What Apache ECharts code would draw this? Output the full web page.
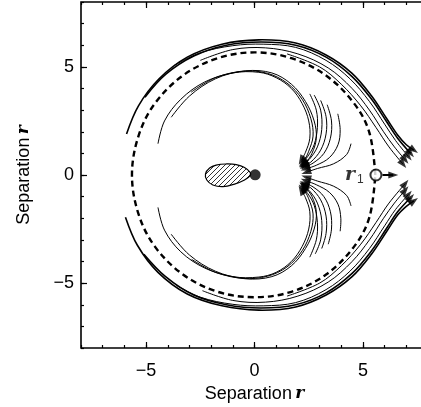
<!DOCTYPE html>
<html>
<head>
<meta charset="utf-8">
<script src="https://cdn.jsdelivr.net/npm/echarts@6/dist/echarts.min.js"></script>
<style>
  html, body { margin: 0; padding: 0; background: #fff; }
  #main { width: 421px; height: 407px; }
</style>
</head>
<body>
<div id="main"></div>
<script>
// axis range and labelled ticks
const axisMin = -8;
const axisMax = 8;
const tickLabels = [-5, 0, 5];

// hatched lobe and the black dot at the origin
const lobe = [[-0.2, 0.12], [-0.46, 0.35], [-0.84, 0.48], [-1.3, 0.51], [-1.77, 0.46], [-2.07, 0.32],
  [-2.26, 0.05], [-2.2, -0.23], [-1.92, -0.46], [-1.46, -0.54], [-0.92, -0.42], [-0.46, -0.23], [-0.2, -0.03]];
const nucleus = [[0.03, 0.01]];

// dashed circle
const dashedOrbit = [[5.57, 0], [5.3, 1.95], [4.6, 3.3], [3.3, 4.6], [1.7, 5.4], [0, 5.67], [-1.7, 5.4],
  [-3.3, 4.6], [-4.6, 3.3], [-5.35, 1.8], [-5.65, 0], [-5.35, -1.8], [-4.6, -3.3], [-3.3, -4.6],
  [-1.7, -5.4], [0, -5.65], [1.7, -5.4], [3.3, -4.6], [4.6, -3.3], [5.3, -1.95], [5.57, 0]];

// trajectories around the inner (heart shaped) region, ending at the cusp
const innerTop = [
  [[-4.45, 1.45], [-4.15, 2.5], [-3.4, 3.5], [-2.3, 4.3], [-1, 4.72], [0.2, 4.75], [1.0, 4.5], [1.7, 4.0], [2.2, 3.3], [2.5, 2.5], [2.55, 1.7], [2.35, 1.05], [2.15, 0.68]],
  [[-3.84, 2.67], [-3.0, 3.65], [-1.8, 4.45], [-0.5, 4.8], [0.6, 4.7], [1.5, 4.25], [2.2, 3.5], [2.6, 2.6], [2.7, 1.8], [2.5, 1.1], [2.25, 0.55]],
  [[-2.92, 3.83], [-1.8, 4.5], [-0.4, 4.82], [0.8, 4.72], [1.7, 4.2], [2.35, 3.4], [2.75, 2.5], [2.85, 1.7], [2.65, 1.0], [2.3, 0.45]]
];
const innerBottom = [
  [[-4.45, -1.5], [-4.15, -2.55], [-3.4, -3.55], [-2.3, -4.3], [-1, -4.7], [0.2, -4.72], [1.0, -4.5], [1.7, -4.0], [2.2, -3.3], [2.5, -2.5], [2.55, -1.7], [2.35, -1.05], [2.15, -0.7]],
  [[-3.84, -2.74], [-3.0, -3.7], [-1.8, -4.45], [-0.5, -4.78], [0.6, -4.68], [1.5, -4.25], [2.2, -3.5], [2.6, -2.6], [2.7, -1.8], [2.5, -1.1], [2.25, -0.6]],
  [[-2.9, -3.9], [-1.8, -4.5], [-0.4, -4.8], [0.8, -4.7], [1.7, -4.2], [2.35, -3.4], [2.75, -2.5], [2.85, -1.7], [2.65, -1.0], [2.3, -0.5]]
];

// fan of short trajectories running into the cusp
const fanTop = [
  [[2.55, 3.75], [2.85, 3.0], [2.9, 2.2], [2.75, 1.4], [2.45, 0.85], [2.2, 0.55]],
  [[2.75, 3.7], [3.05, 3.0], [3.1, 2.1], [2.9, 1.3], [2.55, 0.75], [2.25, 0.5]],
  [[3.05, 3.45], [3.3, 2.7], [3.3, 1.9], [3.05, 1.15], [2.6, 0.6], [2.3, 0.45]],
  [[3.35, 3.25], [3.55, 2.5], [3.5, 1.7], [3.2, 1.0], [2.7, 0.55], [2.3, 0.38]],
  [[3.84, 2.83], [3.95, 2.1], [3.85, 1.4], [3.45, 0.8], [2.85, 0.45], [2.35, 0.28]],
  [[4.45, 1.45], [4.25, 0.95], [3.65, 0.52], [2.9, 0.3], [2.38, 0.12]]
];
const fanBottom = [
  [[2.55, -3.8], [2.85, -3.0], [2.9, -2.2], [2.75, -1.4], [2.45, -0.85], [2.2, -0.6]],
  [[2.8, -3.65], [3.05, -3.0], [3.1, -2.1], [2.9, -1.3], [2.55, -0.75], [2.25, -0.5]],
  [[3.1, -3.4], [3.3, -2.7], [3.3, -1.9], [3.05, -1.15], [2.6, -0.6], [2.3, -0.45]],
  [[3.4, -3.2], [3.55, -2.5], [3.5, -1.7], [3.2, -1.0], [2.7, -0.55], [2.3, -0.38]],
  [[3.95, -2.6], [3.98, -2.0], [3.85, -1.35], [3.45, -0.8], [2.85, -0.45], [2.35, -0.26]],
  [[4.45, -1.43], [4.25, -0.95], [3.65, -0.52], [2.9, -0.28], [2.38, -0.1]]
];

// trajectories outside the dashed circle, escaping to the right
const outerTop = [
  [[-5.9, 1.9], [-5.35, 3.2], [-4.4, 4.45], [-3.1, 5.45], [-1.5, 6.05], [0.2, 6.25], [1.9, 6.1], [3.3, 5.55], [4.5, 4.7], [5.4, 3.65], [6.1, 2.6], [6.6, 1.85], [7.0, 1.4], [7.35, 1.15]],
  [[-5.05, 3.6], [-4.1, 4.65], [-2.8, 5.5], [-1.3, 6.0], [0.3, 6.15], [1.9, 6.0], [3.3, 5.45], [4.5, 4.55], [5.4, 3.5], [6.1, 2.45], [6.6, 1.7], [7.2, 1.0]],
  [[-3.7, 5.07], [-2.5, 5.65], [-1.0, 5.98], [0.4, 6.05], [1.9, 5.9], [3.3, 5.3], [4.4, 4.45], [5.3, 3.4], [6.0, 2.35], [6.5, 1.6], [7.1, 0.85]],
  [[-2.5, 5.3], [-1.0, 5.8], [0.5, 5.88], [2.0, 5.6], [3.4, 4.95], [4.5, 4.0], [5.3, 3.0], [5.95, 2.0], [6.45, 1.3], [6.95, 0.7]],
  [[1.5, 5.6], [3.0, 5.0], [4.0, 4.2], [4.9, 3.2], [5.6, 2.2], [6.2, 1.3], [6.85, 0.5]]
];
const outerBottom = [
  [[-5.95, -1.95], [-5.4, -3.25], [-4.45, -4.5], [-3.1, -5.5], [-1.5, -6.05], [0.2, -6.25], [1.9, -6.1], [3.3, -5.55], [4.5, -4.7], [5.4, -3.65], [6.1, -2.6], [6.6, -1.85], [7.0, -1.45], [7.35, -1.2]],
  [[-5.1, -3.66], [-4.1, -4.7], [-2.8, -5.55], [-1.3, -6.0], [0.3, -6.15], [1.9, -6.0], [3.3, -5.45], [4.5, -4.55], [5.4, -3.5], [6.1, -2.45], [6.6, -1.7], [7.2, -1.05]],
  [[-3.6, -5.1], [-2.5, -5.65], [-1.0, -5.98], [0.4, -6.05], [1.9, -5.9], [3.3, -5.3], [4.4, -4.45], [5.3, -3.4], [6.0, -2.35], [6.5, -1.6], [7.1, -0.9]],
  [[-2.4, -5.35], [-1.0, -5.8], [0.5, -5.88], [2.0, -5.6], [3.4, -4.95], [4.5, -4.0], [5.3, -3.0], [5.95, -2.0], [6.45, -1.3], [6.95, -0.7]],
  [[1.5, -5.6], [3.0, -5.0], [4.0, -4.2], [4.9, -3.2], [5.6, -2.2], [6.2, -1.3], [6.95, -0.4]]
];

// r1 marker with its arrow
const r1Point = [[5.6, 0]];
const r1Arrow = [[5.9, 0], [6.4, 0]];
const r1Label = [[4.6, 0]];

const chart = echarts.init(document.getElementById('main'));

// diagonal hatch pattern for the lobe
const hatch = document.createElement('canvas');
hatch.width = 5;
hatch.height = 5;
const hc = hatch.getContext('2d');
hc.strokeStyle = '#000';
hc.lineWidth = 0.8;
hc.beginPath();
hc.moveTo(0, 5); hc.lineTo(5, 0);
hc.moveTo(-2.5, 2.5); hc.lineTo(2.5, -2.5);
hc.moveTo(2.5, 7.5); hc.lineTo(7.5, 2.5);
hc.stroke();

const minus = v => String(v).replace('-', '\u2212');
const labelFont = { fontFamily: 'Liberation Sans', fontSize: 18, color: '#000' };
const nameStyle = {
  rich: {
    a: { fontFamily: 'Liberation Sans', fontSize: 18, color: '#000' },
    b: { fontFamily: 'DejaVu Serif', fontStyle: 'italic', fontWeight: 'bold', fontSize: 17, color: '#000' }
  }
};

function makeAxis(dim, pos, major, main) {
  const ax = {
    type: 'value', position: pos, min: axisMin, max: axisMax, interval: 1,
    axisLine: { show: false, onZero: false },
    splitLine: { show: false },
    axisTick: { show: true, inside: true, length: major ? 6 : 3, lineStyle: { color: '#000', width: 1.2 } },
    axisLabel: { show: false }
  };
  if (major) ax.axisTick.customValues = tickLabels;
  if (main) {
    ax.axisLabel = Object.assign({ show: true, customValues: tickLabels, formatter: minus, margin: dim === 'x' ? 14 : 7 }, labelFont);
    ax.name = '{a|Separation} {b|r}';
    ax.nameLocation = 'middle';
    ax.nameGap = dim === 'x' ? 34 : 48;
    ax.nameTextStyle = nameStyle;
  }
  return ax;
}

// one custom series per group of trajectories, drawn as smooth polylines
function tracks(group, width, dash) {
  return {
    type: 'custom', silent: true, z: 3,
    data: group.map(t => t[0]),
    renderItem: (params, api) => ({
      type: 'polyline',
      shape: { points: group[params.dataIndex].map(p => api.coord(p)), smooth: 0.35 },
      style: { stroke: '#000', lineWidth: typeof width === 'function' ? width(params.dataIndex) : width, fill: 'none', lineDash: dash || null }
    })
  };
}

// arrowheads at the end of every trajectory, pointing along its last segment
function heads(list) {
  return list.map(t => {
    const a = t[t.length - 2], b = t[t.length - 1];
    const ang = Math.atan2(b[1] - a[1], b[0] - a[0]) * 180 / Math.PI;
    return { value: b, symbolRotate: ang - 90 };
  });
}

const allTracks = [].concat(innerTop, innerBottom, fanTop, fanBottom, outerTop, outerBottom);
const series = [
  tracks(innerTop.concat(innerBottom, fanTop, fanBottom), 1),
  tracks(outerTop.concat(outerBottom), i => (i % 5 < 2 ? 1.6 : 1)),
  tracks([dashedOrbit], 2.4, [6, 4]),
  tracks([r1Arrow], 2),
  {
    type: 'scatter', data: heads(allTracks.concat([r1Arrow])), symbol: 'triangle',
    symbolSize: [7, 10], itemStyle: { color: '#000' }, silent: true, z: 5
  },
  {
    type: 'custom', data: [lobe[0]], z: 4, silent: true,
    renderItem: (params, api) => ({
      type: 'polygon',
      shape: { points: lobe.map(p => api.coord(p)), smooth: 0.4 },
      style: { fill: { image: hatch, repeat: 'repeat' }, stroke: '#000', lineWidth: 1.2 }
    })
  },
  {
    type: 'scatter', data: nucleus, symbol: 'circle', symbolSize: 11, silent: true, z: 6,
    itemStyle: { color: '#000' }
  },
  {
    type: 'scatter', data: r1Point, symbol: 'circle', symbolSize: 11, silent: true, z: 6,
    itemStyle: { color: '#fff', borderColor: '#000', borderWidth: 2 }
  },
  {
    type: 'scatter', data: r1Label, symbolSize: 0, silent: true, z: 6,
    label: {
      show: true, position: 'inside', formatter: '{b|r}{s|1}',
      rich: {
        b: { fontFamily: 'DejaVu Serif', fontStyle: 'italic', fontWeight: 'bold', fontSize: 19, color: '#000' },
        s: { fontFamily: 'Liberation Sans', fontSize: 12, color: '#000', padding: [10, 0, 0, 2] }
      }
    }
  }
];

chart.setOption({
  animation: false,
  backgroundColor: '#fff',
  grid: {
    left: 81, top: 2, width: 347, height: 346, outerBoundsMode: 'none',
    show: true, borderColor: '#000', borderWidth: 1.6
  },
  xAxis: [makeAxis('x', 'bottom', false, true), makeAxis('x', 'bottom', true, false),
    makeAxis('x', 'top', false, false), makeAxis('x', 'top', true, false)],
  yAxis: [makeAxis('y', 'left', false, true), makeAxis('y', 'left', true, false),
    makeAxis('y', 'right', false, false), makeAxis('y', 'right', true, false)],
  series: series
});
</script>
</body>
</html>
